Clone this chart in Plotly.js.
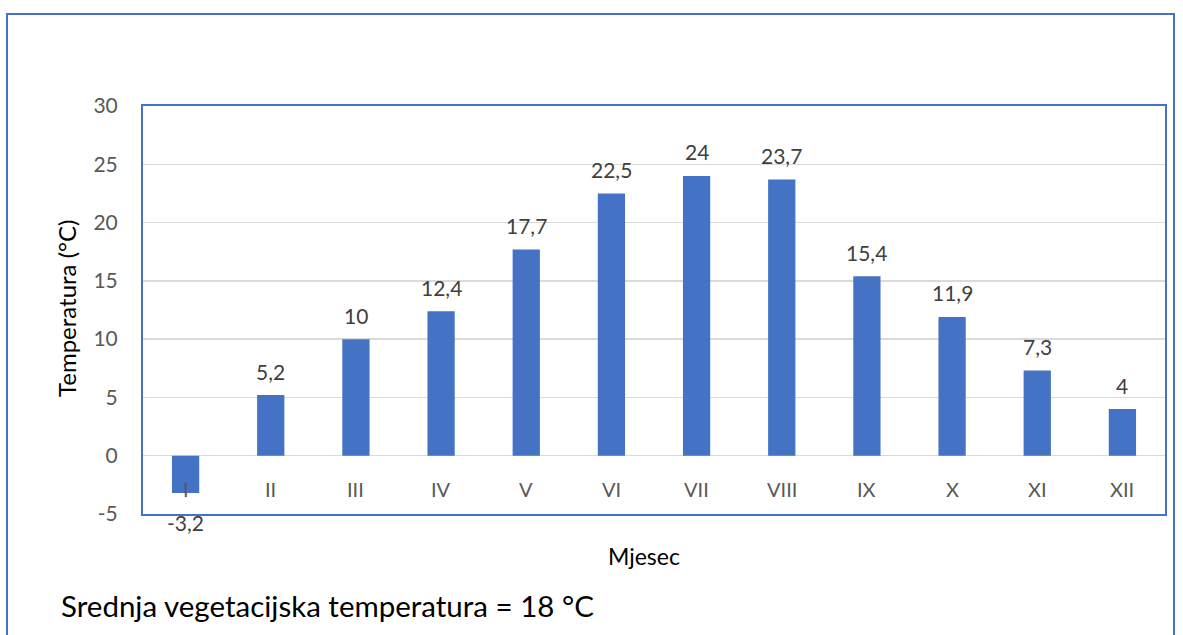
<!DOCTYPE html>
<html>
<head>
<meta charset="utf-8">
<script src="https://cdn.plot.ly/plotly-3.0.1.min.js"></script>
<style>
  html, body { margin: 0; padding: 0; background: #fff; overflow: hidden; }
  #chart { width: 1183px; height: 635px; }
  #frame { position: absolute; left: 6px; top: 13px; width: 1169px; height: 700px;
           border: 2px solid #4472C4; pointer-events: none; box-sizing: border-box; }
</style>
</head>
<body>
<div id="chart"></div>
<div id="frame"></div>
<script>
const months = ['I', 'II', 'III', 'IV', 'V', 'VI', 'VII', 'VIII', 'IX', 'X', 'XI', 'XII'];
const temperatures = [-3.2, 5.2, 10, 12.4, 17.7, 22.5, 24, 23.7, 15.4, 11.9, 7.3, 4];
const yTicks = [-5, 0, 5, 10, 15, 20, 25, 30];
const xTitle = 'Mjesec';
const yTitle = 'Temperatura (°C)';
const footnote = 'Srednja vegetacijska temperatura = 18 °C';

const W = 1183, H = 635;
const M = { l: 143, r: 18, t: 106, b: 121 };
const PW = W - M.l - M.r, PH = H - M.t - M.b;
const px = x => (x - M.l) / PW;
const py = y => (H - M.b - y) / PH;

const FONT = 'Lato, "Open Sans", sans-serif';
const fmt = v => String(v).replace('.', ',');

const trace = {
  type: 'bar',
  x: months,
  y: temperatures,
  width: 0.32,
  marker: { color: '#4472C4' },
  hoverinfo: 'skip'
};

const annotations = [];
months.forEach((m, i) => {
  annotations.push({
    x: m, y: 0, xref: 'x', yref: 'y', text: m, showarrow: false,
    yanchor: 'middle', yshift: -33,
    font: { family: FONT, size: 20, color: '#595959' }
  });
  const v = temperatures[i];
  annotations.push({
    x: m, y: v, xref: 'x', yref: 'y', text: fmt(v), showarrow: false,
    yanchor: 'middle', yshift: v >= 0 ? 24 : -29,
    font: { family: FONT, size: 21, color: '#404040' }
  });
});
annotations.push({
  xref: 'paper', yref: 'paper', x: px(66), y: py(308), text: yTitle, textangle: -90,
  showarrow: false, xanchor: 'center', yanchor: 'middle',
  font: { family: FONT, size: 24, color: '#000000' }
});
annotations.push({
  xref: 'paper', yref: 'paper', x: px(644), y: py(556), text: xTitle,
  showarrow: false, xanchor: 'center', yanchor: 'middle',
  font: { family: FONT, size: 23, color: '#000000' }
});
annotations.push({
  xref: 'paper', yref: 'paper', x: px(59), y: py(605), text: footnote,
  showarrow: false, xanchor: 'left', yanchor: 'middle',
  font: { family: FONT, size: 29.5, color: '#000000' }
});

const layout = {
  width: W, height: H,
  margin: M,
  paper_bgcolor: '#ffffff',
  plot_bgcolor: '#ffffff',
  showlegend: false,
  font: { family: FONT },
  xaxis: {
    type: 'category',
    showticklabels: false,
    showgrid: false,
    zeroline: false,
    showline: true, mirror: true, linecolor: '#4472C4', linewidth: 2,
    ticks: ''
  },
  yaxis: {
    range: [-5, 30],
    tickvals: yTicks,
    ticktext: yTicks.map(String),
    showgrid: true, gridcolor: '#DADADA', gridwidth: 1.5,
    zeroline: true, zerolinecolor: '#DADADA', zerolinewidth: 1.5,
    showline: true, mirror: true, linecolor: '#4472C4', linewidth: 2,
    ticks: '',
    ticklabelstandoff: 19,
    tickfont: { family: FONT, size: 21, color: '#595959' },
    fixedrange: true
  },
  annotations: annotations
};

Plotly.newPlot('chart', [trace], layout, { displayModeBar: false, staticPlot: true });
</script>
</body>
</html>
